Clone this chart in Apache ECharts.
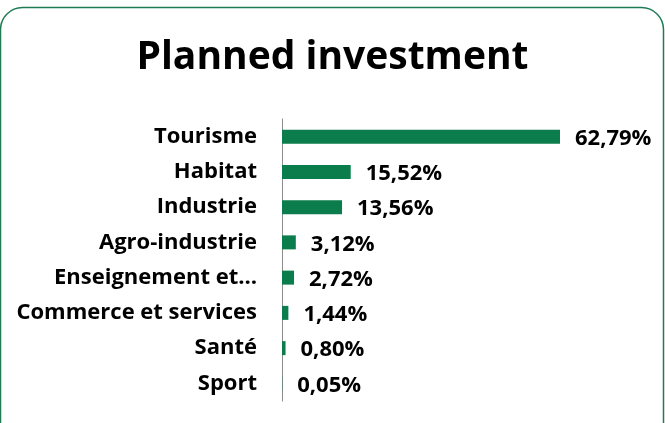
<!DOCTYPE html>
<html>
<head>
<meta charset="utf-8">
<script src="https://cdn.jsdelivr.net/npm/echarts@6/dist/echarts.min.js"></script>
<style>
  html, body { margin: 0; padding: 0; background: #fff; }
  #chart { width: 665px; height: 423px; }
</style>
</head>
<body>
<div id="chart"></div>
<script>
// sectors, top to bottom
const categories = [
  "Tourisme",
  "Habitat",
  "Industrie",
  "Agro-industrie",
  "Enseignement et…",
  "Commerce et services",
  "Santé",
  "Sport"
];
// share of planned investment, %
const shares = [62.79, 15.52, 13.56, 3.12, 2.72, 1.44, 0.8, 0.05];

const green = "#0b7d4c";
const font = "'Open Sans', sans-serif";

const chart = echarts.init(document.getElementById("chart"));

chart.setOption({
  animation: false,
  title: {
    text: "Planned investment",
    left: "center",
    top: 33,
    textStyle: {
      fontFamily: font,
      fontWeight: "bold",
      fontSize: 39,
      color: "#000"
    }
  },
  graphic: [
    {
      type: "rect",
      shape: { x: 0.5, y: 7.5, width: 663, height: 440, r: 22 },
      style: { fill: "none", stroke: "#1f7d55", lineWidth: 1.5 },
      silent: true,
      z: -1
    }
  ],
  grid: {
    left: 282,
    right: 105,
    top: 119,
    bottom: 22
  },
  xAxis: {
    type: "value",
    min: 0,
    max: 62.79,
    show: false
  },
  yAxis: {
    type: "category",
    data: categories,
    inverse: true,
    axisLine: { show: true, lineStyle: { color: "#8c8c8c", width: 1 } },
    axisTick: { show: false },
    axisLabel: {
      margin: 25,
      fontFamily: font,
      fontWeight: "bold",
      fontSize: 22,
      color: "#000"
    }
  },
  series: [
    {
      type: "bar",
      data: shares,
      barWidth: 14,
      itemStyle: { color: green },
      label: {
        show: true,
        position: "right",
        distance: 15,
        offset: [0, 2],
        fontFamily: font,
        fontWeight: "bold",
        fontSize: 22,
        color: "#000",
        formatter: (p) => p.value.toFixed(2).replace(".", ",") + "%"
      }
    }
  ]
});
</script>
</body>
</html>
